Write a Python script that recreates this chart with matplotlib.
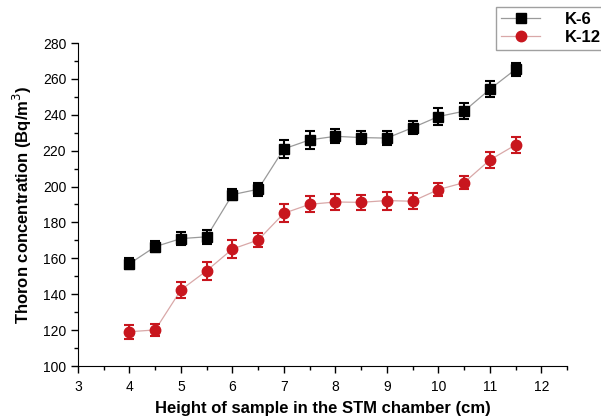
import numpy as np
import matplotlib
matplotlib.use('Agg')
import matplotlib.pyplot as plt
from matplotlib.ticker import MultipleLocator
from matplotlib.lines import Line2D

plt.rcParams['font.family'] = ['Liberation Sans', 'DejaVu Sans']

# data
height = [4, 4.5, 5, 5.5, 6, 6.5, 7, 7.5, 8, 8.5, 9, 9.5, 10, 10.5, 11, 11.5]
k6 = [157, 166.5, 171, 172, 195.5, 198.5, 221, 226, 228, 227.3, 227, 232.8, 239, 242, 254.2, 265.3]
k6_err = [3, 3, 3.5, 4, 3, 3.5, 5, 5, 4, 3.5, 4, 3.5, 4.5, 4.5, 4.5, 3.5]
k12 = [119.1, 120.1, 142.4, 153.1, 165.2, 170.2, 185.1, 190.1, 191.4, 191.2, 192.2, 191.8, 198.3, 202.2, 214.8, 223.2]
k12_err = [4, 3.5, 4.5, 5, 5, 4, 5, 4.5, 4.5, 4, 5, 4.5, 3.5, 3.5, 4.5, 4.5]

fig = plt.figure(figsize=(6.01, 4.19), dpi=100)
ax = fig.add_axes([78/601, 1 - 366/419, (567-78)/601, (366-43)/419])

ax.plot(height, k6, color='#9a9a9a', lw=0.9, zorder=1)
ax.errorbar(height, k6, yerr=k6_err, fmt='s', color='black', ms=6.5,
            capsize=3.5, elinewidth=1.5, capthick=1.5, zorder=3)
ax.plot(height, k12, color='#d9a8a8', lw=0.9, zorder=1)
ax.errorbar(height, k12, yerr=k12_err, fmt='o', color='#c8161e', ms=7.5,
            capsize=3.5, elinewidth=1.5, capthick=1.5, zorder=3)

ax.set_xlim(3, 12.5)
ax.set_ylim(100, 280)
ax.xaxis.set_major_locator(MultipleLocator(1))
ax.xaxis.set_minor_locator(MultipleLocator(0.5))
ax.yaxis.set_major_locator(MultipleLocator(20))
ax.yaxis.set_minor_locator(MultipleLocator(10))
ax.tick_params(which='major', direction='out', length=5, width=1, labelsize=10)
ax.tick_params(which='minor', direction='out', length=3, width=1)
ax.tick_params(axis='x', which='major', pad=5)
ax.spines['top'].set_visible(False)
ax.spines['right'].set_visible(False)

ax.set_xlabel('Height of sample in the STM chamber (cm)', fontsize=12, fontweight='bold', labelpad=5)
ax.set_ylabel('Thoron concentration (Bq/m$^3$)', fontsize=12, fontweight='bold', labelpad=6)

handles = [
    Line2D([], [], color='#9a9a9a', lw=0.9, marker='s', mfc='black', mec='black', ms=6.5),
    Line2D([], [], color='#d9a8a8', lw=0.9, marker='o', mfc='#c8161e', mec='#c8161e', ms=7.5),
]
leg = fig.legend(handles, ['K-6', 'K-12'], loc='upper right',
                 bbox_to_anchor=(1.008, 1 - 7/419), frameon=True, fancybox=False,
                 borderaxespad=0, edgecolor='#888888', prop={'weight': 'bold', 'size': 12},
                 handlelength=2.3, borderpad=0.3, labelspacing=0.2, handletextpad=1.5)
leg.get_frame().set_linewidth(1)

fig.savefig('out.png', dpi=100)
